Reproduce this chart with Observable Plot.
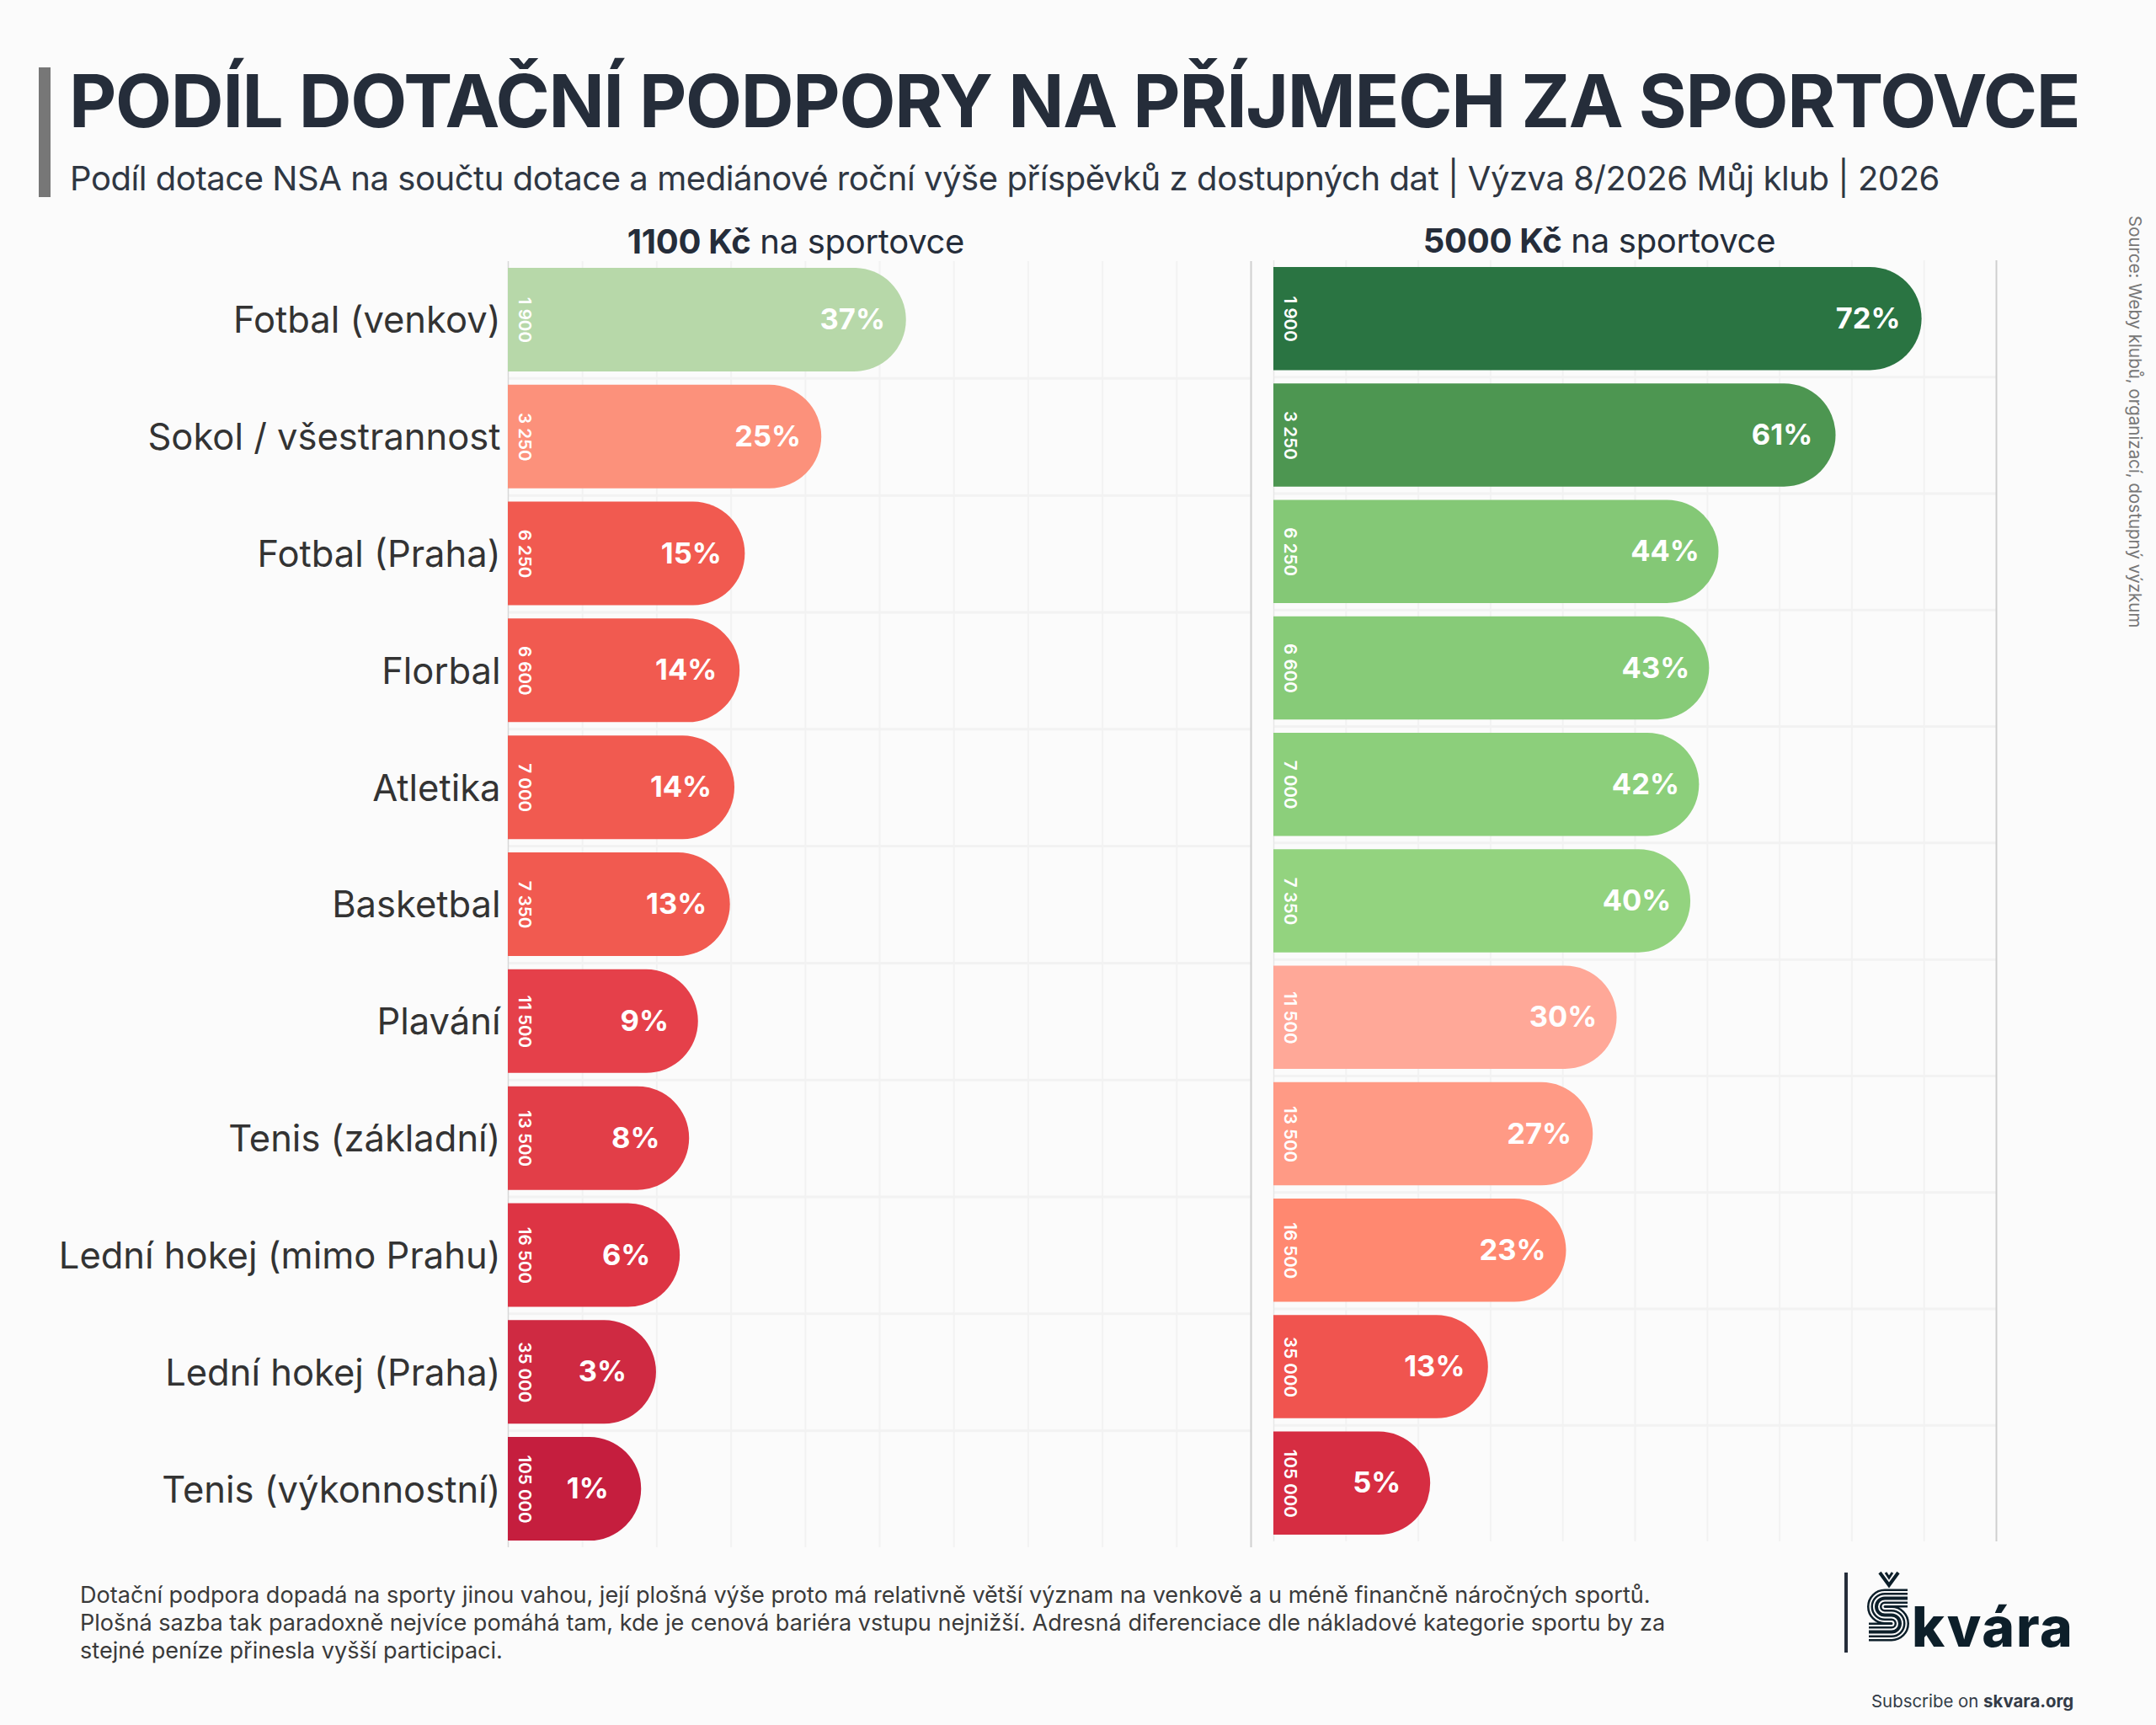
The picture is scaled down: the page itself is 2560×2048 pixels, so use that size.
<!DOCTYPE html>
<html lang="cs"><head><meta charset="utf-8">
<script src="https://cdn.jsdelivr.net/npm/d3@7"></script>
<script src="https://cdn.jsdelivr.net/npm/@observablehq/plot@0.6"></script>
<style>
html,body{margin:0;padding:0;background:#fbfbfb;}
#page{position:relative;width:2560px;height:2048px;background:#fbfbfb;font-family:Inter,sans-serif;overflow:hidden;}
#page>*{position:absolute;white-space:nowrap;}
#accent{left:46px;top:80px;width:14px;height:154px;background:#777;}
#title{left:82px;top:63px;font-size:87px;font-weight:700;color:#252d3a;line-height:114px;letter-spacing:-1.28px;}
#subtitle{left:83px;top:186px;font-size:40px;font-weight:400;color:#2f3743;line-height:52px;letter-spacing:-0.44px;}
.facet{font-size:40px;color:#252d3a;line-height:52px;transform:translateX(-50%);letter-spacing:-0.3px;}
.facet b{font-weight:700;}
#source{left:2523px;top:256px;font-size:20.5px;color:#777;writing-mode:vertical-rl;line-height:24px;}
#note{left:95px;top:1877px;font-size:27.08px;line-height:33px;color:#3a3a3a;}
#logobar{left:2190px;top:1867px;width:4px;height:95px;background:#252d3a;}
#logo{left:2270px;top:1898px;font-size:66px;font-weight:800;color:#0d1f2a;line-height:66px;letter-spacing:1.8px;}
#logomark{left:2218px;top:1867px;}
#subscribe{left:2222px;top:2007px;font-size:20.4px;line-height:26px;color:#333b47;}
#subscribe b{font-weight:700;}
svg{overflow:visible}
</style></head><body>
<div id="page">
<div id="accent"></div>
<div id="title">PODÍL DOTAČNÍ PODPORY NA PŘÍJMECH ZA SPORTOVCE</div>
<div id="subtitle">Podíl dotace NSA na součtu dotace a mediánové roční výše příspěvků z dostupných dat | Výzva 8/2026 Můj klub | 2026</div>
<div class="facet" style="left:945px;top:261px"><b>1100 Kč</b> na sportovce</div>
<div class="facet" style="left:1899px;top:260px"><b>5000 Kč</b> na sportovce</div>
<div id="source">Source: Weby klubů, organizací, dostupný výzkum</div>
<div id="leftPanel" style="left:0;top:310px"></div>
<div id="rightPanel" style="left:1500px;top:309px"></div>
<div id="note">Dotační podpora dopadá na sporty jinou vahou, její plošná výše proto má relativně větší význam na venkově a u méně finančně náročných sportů.<br>Plošná sazba tak paradoxně nejvíce pomáhá tam, kde je cenová bariéra vstupu nejnižší. Adresná diferenciace dle nákladové kategorie sportu by za<br>stejné peníze přinesla vyšší participaci.</div>
<div id="logobar"></div>
<svg id="logomark" width="50" height="82" viewBox="0 0 50 82" aria-label="Š">
  <defs><path id="sCurve" d="M47 10.5H20A10 10 0 0 0 20 30.5H28A10 10 0 0 1 28 50.5H1"/></defs>
  <g fill="none" stroke="#0d1f2a">
    <path d="M14 0L25 15L36 0" stroke-width="4"/>
    <path d="M21 0L25 6L29 0" stroke-width="3"/>
    <g transform="translate(0,20)">
      <use href="#sCurve" stroke-width="22"/>
      <use href="#sCurve" stroke-width="17" stroke="#fbfbfb"/>
      <use href="#sCurve" stroke-width="13"/>
      <use href="#sCurve" stroke-width="8" stroke="#fbfbfb"/>
      <use href="#sCurve" stroke-width="4"/>
    </g>
  </g>
</svg>
<div id="logo">kvára</div>
<div id="subscribe">Subscribe on <b>skvara.org</b></div>
</div>
<script>
const sports = ["Fotbal (venkov)","Sokol / všestrannost","Fotbal (Praha)","Florbal","Atletika","Basketbal","Plavání","Tenis (základní)","Lední hokej (mimo Prahu)","Lední hokej (Praha)","Tenis (výkonnostní)"];
const fees = ["1 900","3 250","6 250","6 600","7 000","7 350","11 500","13 500","16 500","35 000","105 000"];
const shareLeft = [36.7,25.3,15.0,14.3,13.6,13.0,8.7,7.5,6.25,3.05,1.04];
const labelLeft = ["37%","25%","15%","14%","14%","13%","9%","8%","6%","3%","1%"];
const shareRight = [72.5,60.6,44.4,43.1,41.7,40.5,30.3,27.0,23.3,12.5,4.5];
const labelRight = ["72%","61%","44%","43%","42%","40%","30%","27%","23%","13%","5%"];
const paletteLeft = ["#b7d8a9","#fc917b","#f15a50","#f15a50","#f15a50","#f15a50","#e5404a","#e23e48","#dd3444","#cf2a42","#c51e3e"];
const paletteRight = ["#2a7442","#4d9651","#84c876","#87cb78","#8ccf7b","#93d37f","#ffa898","#ff9a85","#ff8870","#f0544f","#d62d42"];
const gridTicks = [10,20,30,40,50,60,70,80,90];

function panel(share, label, palette, opts){
  const rows = sports.map((sport,i)=>({sport, fee:fees[i], share:share[i], label:label[i], end:share[i]+opts.capExtent}));
  const step = opts.height/sports.length;
  return Plot.plot({
    width:opts.width, height:opts.height,
    marginLeft:opts.marginLeft, marginRight:opts.marginRight, marginTop:0, marginBottom:0,
    style:{background:"transparent",fontFamily:"Inter, sans-serif",overflow:"visible"},
    x:{domain:[0,100],axis:null},
    y:{domain:sports,paddingInner:0.114,paddingOuter:0.057,round:false,axis:null,label:null},
    color:{domain:sports,range:palette},
    marks:[
      Plot.ruleX(gridTicks,{stroke:"#f2f2f2",strokeWidth:2}),
      Plot.ruleY(sports.slice(0,-1),{y:d=>d,dy:step/2,stroke:"#f2f2f2",strokeWidth:3}),
      Plot.ruleX([0],{stroke:opts.zeroStroke,strokeWidth:1.5}),
      Plot.ruleX([100],{stroke:"#cfcfcf",strokeWidth:2}),
      opts.showLabels ? Plot.axisY({tickSize:0,tickPadding:9,fontSize:43.5,color:"#333",label:null,fontWeight:400,dy:1.5}) : null,
      Plot.barX(rows,{x1:0,x2:"end",y:"sport",fill:"sport",rx2:62}),
      Plot.text(rows,{x:"end",y:"sport",text:"label",textAnchor:"middle",dx:-64,fill:"white",fontSize:34.5,fontWeight:700,letterSpacing:"-0.6px"}),
      Plot.text(rows,{x:0,y:"sport",text:"fee",dx:19,rotate:90,fill:"white",fontSize:20.6,fontWeight:600})
    ]
  });
}
document.getElementById("leftPanel").append(panel(shareLeft,labelLeft,paletteLeft,{width:1500,height:1527,marginLeft:603,marginRight:15,showLabels:true,capExtent:16.9,zeroStroke:"#d8d8d8"}));
document.getElementById("rightPanel").append(panel(shareRight,labelRight,paletteRight,{width:900,height:1521,marginLeft:12,marginRight:30,showLabels:false,capExtent:17.2,zeroStroke:"#e8e8e8"}));
</script>
</body></html>
